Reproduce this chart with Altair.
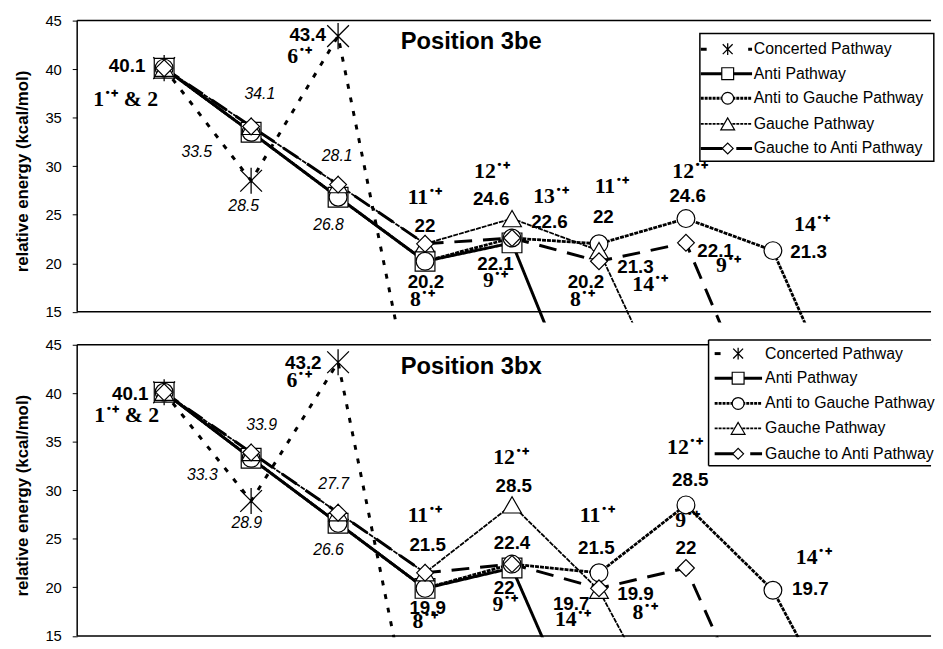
import altair as alt
import pandas as pd

SERIES = ["Concerted Pathway", "Anti Pathway", "Anti to Gauche Pathway",
          "Gauche Pathway", "Gauche to Anti Pathway"]

# ---- Position 3be (upper panel); steps 1..n, last value = product (below the axis)
be_concerted = [40.1, 28.5, 43.4, -1.0]
be_anti = [40.1, 33.5, 26.8, 20.2, 22.1, 0.0]
be_anti_gauche = [40.1, 33.5, 26.8, 20.2, 22.6, 22.0, 24.6, 21.3, 1.0]
be_gauche = [40.1, 34.1, 28.1, 22.0, 24.6, 21.3, 2.0]
be_gauche_anti = [40.1, 34.1, 28.1, 22.0, 22.6, 20.2, 22.1, 1.0]

# ---- Position 3bx (lower panel)
bx_concerted = [40.1, 28.9, 43.2, -1.0]
bx_anti = [40.1, 33.3, 26.6, 19.9, 22.0, 1.5]
bx_anti_gauche = [40.1, 33.3, 26.6, 19.9, 22.4, 21.5, 28.5, 19.7, 3.0]
bx_gauche = [40.1, 33.9, 27.7, 21.5, 28.5, 19.7, 3.0]
bx_gauche_anti = [40.1, 33.9, 27.7, 21.5, 22.4, 19.9, 22.0, 2.0]

SUP = "\u02d9\u207a"  # radical-cation superscript

# annotation texts with their anchor (step, kcal/mol) and kind
be_label_text = ["40.1", "1" + SUP + " & 2", "34.1", "33.5", "28.5", "43.4", "6" + SUP,
                 "28.1", "26.8", "11" + SUP, "22", "20.2", "8" + SUP, "12" + SUP, "24.6",
                 "13" + SUP, "22.6", "22.1", "9" + SUP, "11" + SUP, "22", "20.2", "8" + SUP,
                 "21.3", "14" + SUP, "12" + SUP, "24.6", "22.1", "9" + SUP, "14" + SUP, "21.3",
                 "Position 3be"]
be_label_x = [0.574, 0.557, 2.10, 1.375, 1.915, 2.65, 2.56, 2.99, 2.89, 4.0, 4.0, 4.01, 3.97,
              4.77, 4.76, 5.45, 5.43, 4.81, 4.81, 6.15, 6.05, 5.85, 5.81, 6.42, 6.59, 7.05,
              7.02, 7.34, 7.49, 8.45, 8.41, 4.53]
be_label_y = [40.34, 36.9, 37.4, 31.5, 25.85, 43.48, 41.35, 31.0, 23.9, 26.8, 23.8, 18.05, 16.3,
              29.5, 26.66, 26.9, 24.2, 19.9, 18.25, 27.9, 24.8, 18.05, 16.3, 19.6, 17.85, 29.5,
              26.97, 21.3, 19.8, 24.0, 21.1, 42.8]
be_label_kind = ["v", "c", "i", "i", "i", "v", "c", "i", "i", "c", "v", "v", "c", "c", "v",
                 "c", "v", "v", "c", "c", "v", "v", "c", "v", "c", "c", "v", "v", "c", "c", "v",
                 "t"]

bx_label_text = ["40.1", "1" + SUP + " & 2", "33.9", "33.3", "28.9", "43.2", "6" + SUP,
                 "27.7", "26.6", "11" + SUP, "21.5", "19.9", "8" + SUP, "12" + SUP, "28.5",
                 "22.4", "22", "9" + SUP, "11" + SUP, "21.5", "19.7", "14" + SUP, "19.9",
                 "8" + SUP, "12" + SUP, "28.5", "9" + SUP, "22", "14" + SUP, "19.7",
                 "Position 3bx"]
bx_label_x = [0.61, 0.57, 2.12, 1.44, 1.95, 2.6, 2.55, 2.95, 2.89, 4.0, 4.03, 4.03, 4.0,
              4.99, 5.02, 5.0, 4.91, 4.92, 5.98, 5.97, 5.68, 5.70, 6.42, 6.53, 6.99, 7.05,
              7.02, 7.0, 8.47, 8.43, 4.53]
bx_label_y = [39.9, 37.8, 36.7, 31.6, 26.6, 43.1, 41.35, 30.6, 23.8, 27.5, 24.4, 17.85, 16.5,
              33.45, 30.4, 24.6, 19.9, 18.25, 27.5, 24.1, 18.25, 16.7, 19.3, 17.5, 34.5, 31.1,
              26.9, 24.1, 23.1, 19.8, 42.7]
bx_label_kind = ["v", "c", "i", "i", "i", "v", "c", "i", "i", "c", "v", "v", "c", "c", "v",
                 "v", "v", "c", "c", "v", "v", "c", "v", "c", "c", "v", "c", "v", "c", "v",
                 "t"]

# legend rows (kcal/mol) and columns (steps)
be_legend_rows = [42.06, 39.53, 37.0, 34.36, 31.83]
bx_legend_rows = [44.09, 41.56, 38.95, 36.39, 33.76]

U = 9.82          # px per kcal/mol
W = 864           # plot width
XMAX = W / 88.0   # 88 px per step

STYLE = {
    "Concerted Pathway": dict(dash=[5, 9], w=3, shape="M-1,-1L1,1M1,-1L-1,1M0,-1.2L0,1.2",
                              size=484, lsize=100, filled=False, ldash=[6, 42]),
    "Anti Pathway": dict(dash=[1, 0], w=3, shape="square", size=400, lsize=144,
                         filled=True, ldash=[1, 0]),
    "Anti to Gauche Pathway": dict(dash=[4, 1], w=2.8, shape="circle", size=324, lsize=144,
                                   filled=True, ldash=[3, 1]),
    "Gauche Pathway": dict(dash=[5, 1], w=1.8, shape="triangle-up", size=361, lsize=196,
                           filled=True, ldash=[3, 1]),
    "Gauche to Anti Pathway": dict(dash=[18, 11], w=3, shape="diamond", size=289, lsize=121,
                                   filled=True, ldash=[22, 14]),
}

FONT_KIND = {
    "v": dict(font="Liberation Sans", fontWeight="bold", fontStyle="normal", fontSize=19),
    "c": dict(font="Liberation Serif", fontWeight="bold", fontStyle="normal", fontSize=22),
    "i": dict(font="Liberation Sans", fontWeight="normal", fontStyle="italic", fontSize=16),
    "t": dict(font="Liberation Sans", fontWeight="bold", fontStyle="normal", fontSize=24),
}


def make_panel(curves, ltext, lx, ly, lkind, lrows, lcols, box, closed, lo):
    height = (45 - lo) * U
    xs = alt.Scale(domain=[0, XMAX], nice=False, zero=False)
    ys = alt.Scale(domain=[lo, 45], nice=False, zero=False)
    yaxis = alt.Axis(values=[15, 20, 25, 30, 35, 40, 45], domain=False, grid=False,
                     tickSize=5, tickColor="black", tickWidth=1,
                     labelFont="Liberation Sans", labelFontSize=15, labelColor="black",
                     labelPadding=11, title="relative energy (kcal/mol)",
                     titleFont="Liberation Sans", titleFontSize=17, titleFontWeight="bold",
                     titleColor="black", titleAngle=270, titleX=-55.5,
                     titleY=(45 - 29.5) * U, titleAlign="center", titleBaseline="middle")

    def X(f):
        return alt.X(f, type="quantitative", scale=xs, axis=None)

    def Y(f):
        return alt.Y(f, type="quantitative", scale=ys, axis=yaxis)

    layers = []
    frame = pd.DataFrame({"x": [0, 0, 0], "x2": [XMAX, XMAX, 0],
                          "y": [45, 15, 15], "y2": [45, 15, 45]})
    layers.append(alt.Chart(frame).mark_rule(color="black", strokeWidth=1.5).encode(
        x=X("x"), x2="x2", y=Y("y"), y2="y2"))

    dfs = []
    for name, vals in zip(SERIES, curves):
        df = pd.DataFrame({"step": list(range(1, len(vals) + 1)), "value": vals})
        dfs.append(df)
        st = STYLE[name]
        layers.append(alt.Chart(df).mark_line(
            clip=True, color="black", strokeWidth=st["w"], strokeDash=st["dash"]).encode(
            x=X("step"), y=Y("value")))
    for name, df in zip(SERIES, dfs):
        st = STYLE[name]
        pts = df[df["value"] >= 15]
        if st["filled"]:
            mk = alt.Chart(pts).mark_point(shape=st["shape"], size=st["size"], filled=True,
                                           fill="white", stroke="black", strokeWidth=1.2,
                                           opacity=1)
        else:
            mk = alt.Chart(pts).mark_point(shape=st["shape"], size=st["size"], filled=False,
                                           stroke="black", strokeWidth=1.3, opacity=1)
        layers.append(mk.encode(x=X("step"), y=Y("value")))

    labels = pd.DataFrame({"text": ltext, "x": lx, "y": ly, "kind": lkind})
    for kind, fk in FONT_KIND.items():
        layers.append(alt.Chart(labels).transform_filter(alt.datum.kind == kind).mark_text(
            align="center", baseline="middle", color="black", **fk).encode(
            x=X("x"), y=Y("y"), text="text:N"))

    # legend
    bx0, bx1, by0, by1 = box
    boxdf = pd.DataFrame({"x": [bx0], "x2": [bx1], "y": [by0], "y2": [by1]})
    if closed:
        layers.append(alt.Chart(boxdf).mark_rect(fill="white", stroke="black",
                                                 strokeWidth=1.5).encode(
            x=X("x"), x2="x2", y=Y("y"), y2="y2"))
    else:
        layers.append(alt.Chart(boxdf).mark_rect(fill="white").encode(
            x=X("x"), x2="x2", y=Y("y"), y2="y2"))
        edges = pd.DataFrame({"x": [bx0, bx0, bx0], "x2": [bx1, bx1, bx0],
                              "y": [by0, by1, by0], "y2": [by0, by1, by1]})
        layers.append(alt.Chart(edges).mark_rule(color="black", strokeWidth=1.5).encode(
            x=X("x"), x2="x2", y=Y("y"), y2="y2"))
    c0, c1, cm, ct = lcols
    for name, ry in zip(SERIES, lrows):
        st = STYLE[name]
        row = pd.DataFrame({"x": [c0], "x2": [c1], "xm": [cm], "xt": [ct], "y": [ry],
                            "name": [name]})
        layers.append(alt.Chart(row).mark_rule(color="black", strokeWidth=st["w"],
                                               strokeDash=st["ldash"]).encode(
            x=X("x"), x2="x2", y=Y("y")))
        if st["filled"]:
            mk = alt.Chart(row).mark_point(shape=st["shape"], size=st["lsize"], filled=True,
                                           fill="white", stroke="black", strokeWidth=1.2,
                                           opacity=1)
        else:
            mk = alt.Chart(row).mark_point(shape=st["shape"], size=st["lsize"], filled=False,
                                           stroke="black", strokeWidth=1.3, opacity=1)
        layers.append(mk.encode(x=X("xm"), y=Y("y")))
        layers.append(alt.Chart(row).mark_text(align="left", baseline="middle",
                                               font="Liberation Sans", fontSize=16,
                                               color="black").encode(
            x=X("xt"), y=Y("y"), text="name:N"))

    return alt.layer(*layers).properties(width=W, height=height)


top = make_panel([be_concerted, be_anti, be_anti_gauche, be_gauche, be_gauche_anti],
                 be_label_text, be_label_x, be_label_y, be_label_kind,
                 be_legend_rows, (7.17, 7.76, 7.48, 7.78), (7.16, 9.85, 43.68, 30.51),
                 True, 13.9)
bottom = make_panel([bx_concerted, bx_anti, bx_anti_gauche, bx_gauche, bx_gauche_anti],
                    bx_label_text, bx_label_x, bx_label_y, bx_label_kind,
                    bx_legend_rows, (7.33, 7.875, 7.60, 7.91), (7.26, XMAX, 45.5, 32.54),
                    False, 14.85)

chart = alt.vconcat(top, bottom, spacing=15).properties(
    padding={"left": 5, "top": 2, "right": 0, "bottom": -6},
    background="white",
).configure_view(stroke=None)

chart.save("out.html", embed_options={"renderer": "svg", "actions": False})
